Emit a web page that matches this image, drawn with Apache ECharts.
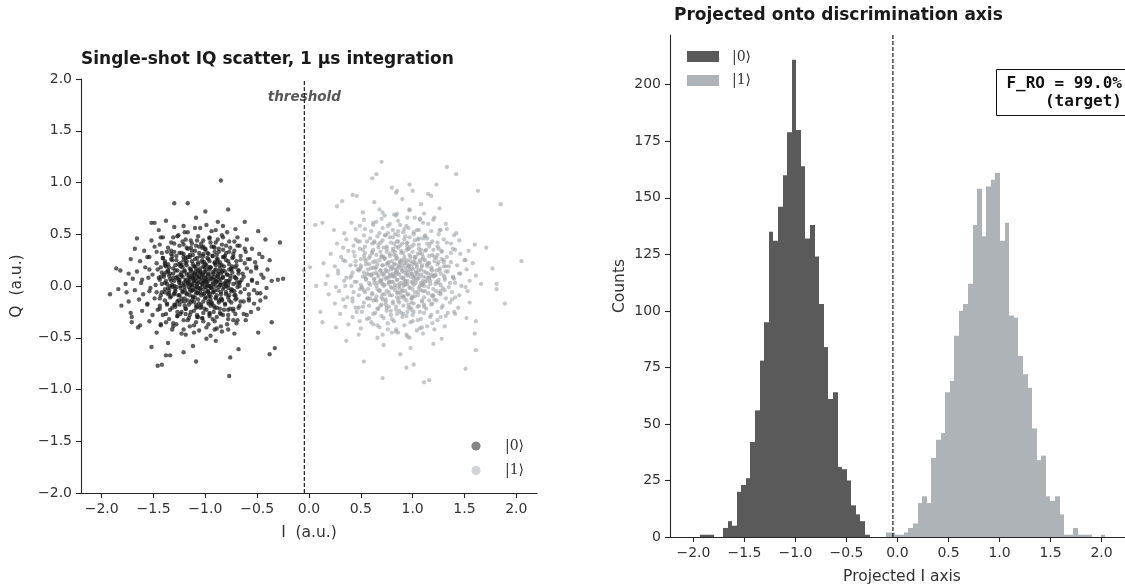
<!DOCTYPE html>
<html>
<head>
<meta charset="utf-8">
<script src="https://cdn.jsdelivr.net/npm/echarts@6/dist/echarts.min.js"></script>
<style>
html, body { margin: 0; padding: 0; background: #fff; }
#chart { width: 1125px; height: 586px; }
</style>
</head>
<body>
<div id="chart"></div>
<script>
// Single-shot readout results (I, Q) for the prepared |0> state
const shots0 = [
  [-1.62,0.03],[-1.55,0.08],[-1.48,0.01],[-1.44,0.06],[-1.40,0.09],[-1.37,0.02],[-1.33,0.05],[-1.30,0.00],[-1.28,0.08],[-1.25,0.04],
  [-1.23,0.10],[-1.21,0.01],[-1.19,0.06],[-1.17,0.03],[-1.15,0.09],[-1.13,0.00],[-1.11,0.05],[-1.10,0.07],[-1.08,0.02],[-1.06,0.09],
  [-1.05,0.04],[-1.03,0.01],[-1.02,0.06],[-1.00,0.08],[-0.99,0.03],[-0.97,0.05],[-0.96,0.00],[-0.94,0.07],[-0.92,0.02],[-0.91,0.09],
  [-0.89,0.04],[-0.87,0.06],[-0.85,0.01],[-0.83,0.08],[-0.81,0.03],[-0.78,0.05],[-0.76,0.10],[-0.73,0.02],[-0.70,0.07],[-0.67,0.04],
  [-0.63,0.09],[-0.59,0.01],[-0.55,0.06],[-0.50,0.03],[-0.44,0.08],[-0.36,0.05],[-1.70,0.07],[-1.77,0.02],[-1.12,0.08],[-0.98,0.01],
  [-1.26,0.06],[-0.88,0.09],[-1.35,0.10],[-0.80,0.00],
  [-1.66,0.14],[-1.58,0.18],[-1.51,0.11],[-1.46,0.16],[-1.42,0.13],[-1.38,0.19],[-1.34,0.12],[-1.31,0.17],[-1.27,0.15],[-1.24,0.11],
  [-1.22,0.18],[-1.20,0.14],[-1.18,0.20],[-1.16,0.12],[-1.14,0.16],[-1.12,0.13],[-1.10,0.19],[-1.08,0.11],[-1.07,0.15],[-1.05,0.17],
  [-1.04,0.12],[-1.02,0.19],[-1.01,0.14],[-0.99,0.16],[-0.97,0.11],[-0.95,0.18],[-0.93,0.13],[-0.91,0.15],[-0.90,0.20],[-0.88,0.12],
  [-0.86,0.17],[-0.84,0.14],[-0.82,0.19],[-0.79,0.11],[-0.77,0.16],[-0.74,0.13],[-0.71,0.18],[-0.68,0.15],[-0.64,0.12],[-0.60,0.17],
  [-0.56,0.14],[-0.51,0.19],[-0.46,0.11],[-0.40,0.16],[-1.29,0.20],[-1.09,0.14],[-0.96,0.18],[-1.36,0.15],[-0.85,0.12],[-1.74,0.12],
  [-1.68,-0.04],[-1.60,-0.08],[-1.53,-0.02],[-1.47,-0.06],[-1.43,-0.09],[-1.39,-0.03],[-1.35,-0.07],[-1.32,-0.01],[-1.29,-0.05],[-1.26,-0.09],
  [-1.24,-0.02],[-1.22,-0.06],[-1.20,-0.04],[-1.18,-0.08],[-1.16,-0.01],[-1.14,-0.05],[-1.12,-0.10],[-1.10,-0.03],[-1.09,-0.07],[-1.07,-0.02],
  [-1.05,-0.06],[-1.04,-0.09],[-1.02,-0.03],[-1.01,-0.07],[-0.99,-0.01],[-0.98,-0.05],[-0.96,-0.08],[-0.94,-0.02],[-0.93,-0.06],[-0.91,-0.04],
  [-0.89,-0.09],[-0.87,-0.01],[-0.85,-0.06],[-0.83,-0.03],[-0.80,-0.08],[-0.78,-0.02],[-0.75,-0.05],[-0.72,-0.09],[-0.69,-0.01],[-0.66,-0.06],
  [-0.62,-0.03],[-0.58,-0.08],[-0.53,-0.04],[-0.47,-0.07],[-0.41,-0.02],[-1.76,-0.06],[-1.84,-0.03],[-1.13,-0.04],[-0.97,-0.10],[-1.30,-0.08],
  [-1.63,0.24],[-1.54,0.28],[-1.47,0.22],[-1.41,0.27],[-1.36,0.21],[-1.32,0.29],[-1.28,0.25],[-1.24,0.22],[-1.21,0.28],[-1.18,0.24],
  [-1.15,0.30],[-1.12,0.21],[-1.10,0.26],[-1.07,0.23],[-1.05,0.29],[-1.03,0.25],[-1.00,0.21],[-0.98,0.27],[-0.96,0.24],[-0.93,0.29],
  [-0.91,0.22],[-0.88,0.26],[-0.86,0.23],[-0.83,0.28],[-0.80,0.25],[-0.77,0.21],[-0.74,0.27],[-0.70,0.24],[-0.66,0.29],[-0.62,0.22],
  [-0.57,0.26],[-0.52,0.23],[-0.45,0.28],[-1.72,0.26],[-1.19,0.27],[-1.01,0.23],[-0.89,0.30],[-1.39,0.24],[-0.38,0.25],
  [-1.64,-0.13],[-1.56,-0.17],[-1.49,-0.12],[-1.44,-0.19],[-1.39,-0.14],[-1.34,-0.11],[-1.30,-0.18],[-1.27,-0.15],[-1.23,-0.12],[-1.20,-0.19],
  [-1.17,-0.14],[-1.14,-0.16],[-1.12,-0.11],[-1.09,-0.18],[-1.07,-0.13],[-1.04,-0.20],[-1.02,-0.15],[-1.00,-0.11],[-0.97,-0.17],[-0.95,-0.13],
  [-0.92,-0.19],[-0.90,-0.12],[-0.87,-0.16],[-0.84,-0.14],[-0.81,-0.18],[-0.78,-0.11],[-0.75,-0.16],[-0.71,-0.13],[-0.67,-0.19],[-0.63,-0.15],
  [-0.58,-0.12],[-0.53,-0.17],[-0.47,-0.14],[-1.74,-0.15],[-1.81,-0.19],[-1.11,-0.15],[-0.94,-0.16],[-1.25,-0.18],[-0.42,-0.11],
  [-1.59,0.34],[-1.49,0.38],[-1.42,0.32],[-1.36,0.37],[-1.30,0.33],[-1.25,0.39],[-1.21,0.31],[-1.17,0.36],[-1.13,0.34],[-1.09,0.39],
  [-1.06,0.32],[-1.03,0.37],[-1.00,0.35],[-0.97,0.31],[-0.94,0.38],[-0.91,0.33],[-0.87,0.36],[-0.84,0.40],[-0.80,0.32],[-0.76,0.37],
  [-0.72,0.34],[-0.67,0.39],[-0.61,0.33],[-0.55,0.36],[-0.48,0.31],[-1.68,0.36],
  [-1.61,-0.24],[-1.51,-0.28],[-1.44,-0.22],[-1.38,-0.27],[-1.32,-0.21],[-1.27,-0.29],[-1.23,-0.25],[-1.19,-0.22],[-1.15,-0.28],[-1.11,-0.24],
  [-1.08,-0.30],[-1.05,-0.21],[-1.02,-0.26],[-0.99,-0.23],[-0.96,-0.29],[-0.92,-0.25],[-0.89,-0.21],[-0.85,-0.27],[-0.82,-0.23],[-0.78,-0.28],
  [-0.73,-0.24],[-0.68,-0.21],[-0.63,-0.27],[-0.56,-0.25],[-0.49,-0.22],[-1.72,-0.26],
  [-1.52,0.44],[-1.41,0.47],[-1.33,0.42],[-1.26,0.49],[-1.19,0.45],[-1.13,0.41],[-1.07,0.48],[-1.02,0.44],[-0.96,0.46],[-0.90,0.42],
  [-0.84,0.49],[-0.77,0.43],[-0.69,0.47],[-0.60,0.45],[-1.66,0.46],
  [-1.54,-0.34],[-1.43,-0.38],[-1.35,-0.32],[-1.28,-0.37],[-1.21,-0.33],[-1.15,-0.39],[-1.09,-0.35],[-1.03,-0.31],[-0.97,-0.37],[-0.91,-0.34],
  [-0.85,-0.39],[-0.78,-0.32],[-0.70,-0.36],[-0.61,-0.33],[-1.63,-0.38],
  [-1.45,0.54],[-1.30,0.57],[-1.17,0.52],[-1.05,0.56],[-0.94,0.53],[-0.83,0.58],[-0.71,0.55],
  [-1.47,-0.45],[-1.32,-0.42],[-1.19,-0.47],[-1.06,-0.43],[-0.95,-0.48],[-0.84,-0.44],[-0.72,-0.46],
  [-1.38,0.63],[-1.09,0.66],[-0.88,0.62],[-1.36,-0.55],[-1.12,-0.58],[-0.90,-0.53],[-1.00,0.72],[-1.21,-0.64],
  [-0.85,1.02],[-1.30,0.80],[-1.17,0.80],[-0.78,0.74],[-1.92,-0.08],[-1.86,0.17],[-1.82,0.15],[-0.28,0.42],[-0.25,0.07],[-0.30,0.06],
  [-1.46,-0.77],[-1.42,-0.76],[-1.09,-0.73],[-0.77,-0.87],[-0.33,-0.60],[-0.38,-0.66],[-1.71,-0.30],[-1.71,-0.35],[-1.65,-0.40],[-1.52,-0.59],
  [-1.52,0.61],[-1.49,0.61],[-1.38,-0.67],[-1.34,-0.67],[-0.76,-0.69],[-0.68,-0.61],[-0.49,-0.45],[-0.36,-0.35],[-0.42,0.45],[-0.49,0.53],
  [-0.62,0.62],
  // dense core of the |0> blob
  [-1.41,-0.28],[-1.37,-0.18],[-1.44,-0.12],[-1.39,-0.06],[-1.36,-0.02],[-1.42,0.02],[-1.38,0.05],[-1.45,0.08],[-1.40,0.11],[-1.36,0.14],
  [-1.43,0.18],[-1.39,0.22],[-1.41,0.27],[-1.37,0.33],[-1.44,0.40],[-1.38,-0.35],
  [-1.31,-0.36],[-1.27,-0.29],[-1.34,-0.23],[-1.29,-0.18],[-1.26,-0.14],[-1.33,-0.10],[-1.30,-0.07],[-1.35,-0.04],[-1.28,-0.01],[-1.32,0.01],
  [-1.25,0.03],[-1.30,0.05],[-1.34,0.07],[-1.27,0.09],[-1.31,0.12],[-1.29,0.15],[-1.35,0.18],[-1.26,0.21],[-1.32,0.25],[-1.28,0.29],
  [-1.33,0.34],[-1.30,0.41],[-1.27,0.48],[-1.34,0.00],
  [-1.21,-0.42],[-1.17,-0.33],[-1.24,-0.27],[-1.19,-0.22],[-1.16,-0.18],[-1.23,-0.15],[-1.20,-0.12],[-1.25,-0.09],[-1.18,-0.07],[-1.22,-0.05],
  [-1.15,-0.03],[-1.20,-0.01],[-1.24,0.00],[-1.17,0.02],[-1.21,0.03],[-1.19,0.05],[-1.25,0.06],[-1.16,0.08],[-1.22,0.09],[-1.18,0.11],
  [-1.23,0.13],[-1.20,0.15],[-1.15,0.17],[-1.24,0.19],[-1.19,0.22],[-1.21,0.25],[-1.17,0.28],[-1.23,0.32],[-1.18,0.37],[-1.22,0.43],
  [-1.20,0.52],[-1.16,0.04],
  [-1.11,-0.38],[-1.07,-0.30],[-1.14,-0.25],[-1.09,-0.21],[-1.06,-0.17],[-1.13,-0.14],[-1.10,-0.11],[-1.15,-0.09],[-1.08,-0.06],[-1.12,-0.04],
  [-1.05,-0.02],[-1.10,0.00],[-1.14,0.01],[-1.07,0.03],[-1.11,0.04],[-1.09,0.05],[-1.15,0.06],[-1.06,0.07],[-1.12,0.08],[-1.08,0.09],
  [-1.13,0.10],[-1.10,0.12],[-1.05,0.13],[-1.14,0.15],[-1.09,0.17],[-1.11,0.19],[-1.07,0.21],[-1.13,0.24],[-1.08,0.27],[-1.12,0.30],
  [-1.10,0.34],[-1.06,0.38],[-1.14,0.44],[-1.08,-0.01],[-1.11,0.11],[-1.13,0.02],[-1.07,-0.07],
  [-0.99,-0.40],[-1.03,-0.31],[-0.96,-0.26],[-1.01,-0.22],[-1.04,-0.18],[-0.97,-0.15],[-1.00,-0.12],[-0.95,-0.10],[-1.02,-0.08],[-0.98,-0.05],
  [-1.05,-0.03],[-1.00,-0.01],[-0.96,0.00],[-1.03,0.02],[-0.99,0.04],[-1.01,0.05],[-0.95,0.07],[-1.04,0.08],[-0.98,0.09],[-1.02,0.10],
  [-0.97,0.12],[-1.00,0.13],[-1.05,0.14],[-0.96,0.16],[-1.01,0.18],[-0.99,0.20],[-1.03,0.23],[-0.97,0.26],[-1.02,0.29],[-0.98,0.32],
  [-1.00,0.36],[-1.04,0.41],[-0.96,0.47],[-1.02,0.03],[-0.99,0.06],[-0.97,-0.06],[-1.03,0.11],
  [-0.89,-0.41],[-0.93,-0.32],[-0.86,-0.26],[-0.91,-0.21],[-0.94,-0.17],[-0.87,-0.14],[-0.90,-0.11],[-0.85,-0.08],[-0.92,-0.06],[-0.88,-0.04],
  [-0.95,-0.02],[-0.90,0.00],[-0.86,0.01],[-0.93,0.03],[-0.89,0.04],[-0.91,0.06],[-0.85,0.07],[-0.94,0.09],[-0.88,0.10],[-0.92,0.12],
  [-0.87,0.14],[-0.90,0.16],[-0.95,0.18],[-0.86,0.20],[-0.91,0.23],[-0.89,0.26],[-0.93,0.29],[-0.87,0.33],[-0.92,0.38],[-0.88,0.45],
  [-0.90,0.05],[-0.94,-0.01],
  [-0.79,-0.37],[-0.83,-0.28],[-0.76,-0.22],[-0.81,-0.17],[-0.84,-0.13],[-0.77,-0.09],[-0.80,-0.06],[-0.75,-0.03],[-0.82,-0.01],[-0.78,0.01],
  [-0.85,0.03],[-0.80,0.05],[-0.76,0.07],[-0.83,0.09],[-0.79,0.11],[-0.81,0.14],[-0.75,0.17],[-0.84,0.20],[-0.78,0.24],[-0.82,0.28],
  [-0.77,0.33],[-0.80,0.39],[-0.83,0.47],[-0.77,0.04],
  [-0.69,-0.33],[-0.73,-0.22],[-0.66,-0.15],[-0.71,-0.09],[-0.74,-0.04],[-0.67,0.00],[-0.70,0.03],[-0.65,0.06],[-0.72,0.09],[-0.68,0.12],
  [-0.75,0.16],[-0.70,0.20],[-0.66,0.25],[-0.73,0.31],[-0.69,0.39],[-0.71,-0.27],
  // body of the |0> blob between core and fringe
  [-0.71,0.08],[-0.68,0.15],[-0.74,0.19],[-0.73,0.28],[-0.81,0.29],[-0.83,0.35],[-0.91,0.37],[-0.95,0.42],[-1.02,0.38],[-1.08,0.44],
  [-1.14,0.37],[-1.21,0.40],[-1.25,0.32],[-1.33,0.31],[-1.33,0.26],[-1.39,0.20],[-1.38,0.13],[-1.43,0.09],[-1.39,0.03],[-1.42,-0.06],
  [-1.36,-0.08],[-1.37,-0.17],[-1.29,-0.20],[-1.27,-0.25],[-1.19,-0.27],[-1.16,-0.31],[-1.08,-0.28],[-1.02,-0.34],[-0.96,-0.27],[-0.89,-0.30],
  [-0.86,-0.22],[-0.78,-0.23],[-0.77,-0.14],[-0.70,-0.12],[-0.72,-0.05],[-0.67,0.03],
  [-0.55,0.05],[-0.51,0.17],[-0.59,0.26],[-0.62,0.36],[-0.72,0.43],[-0.79,0.52],[-0.90,0.54],[-0.99,0.59],[-1.10,0.56],[-1.21,0.58],
  [-1.31,0.47],[-1.43,0.47],[-1.47,0.33],[-1.56,0.28],[-1.54,0.16],[-1.61,0.06],[-1.54,-0.05],[-1.56,-0.18],[-1.46,-0.23],[-1.43,-0.37],
  [-1.31,-0.39],[-1.23,-0.46],[-1.11,-0.45],[-0.99,-0.51],[-0.91,-0.42],[-0.78,-0.42],[-0.73,-0.33],[-0.60,-0.28],[-0.58,-0.14],[-0.50,-0.07],
  [-0.83,0.15],[-0.88,0.23],[-1.02,0.31],[-1.15,0.28],[-1.23,0.20],[-1.31,0.08],[-1.29,-0.03],[-1.20,-0.15],[-1.08,-0.20],[-0.95,-0.19],
  [-0.85,-0.12],[-0.81,0.02]
];

// Single-shot readout results (I, Q) for the prepared |1> state
const shots1 = [
  [0.18,0.10],[0.28,0.15],[0.36,0.08],[0.42,0.13],[0.47,0.16],[0.52,0.09],[0.56,0.12],[0.60,0.17],[0.63,0.07],[0.66,0.11],
  [0.69,0.15],[0.72,0.10],[0.74,0.14],[0.77,0.08],[0.79,0.16],[0.81,0.12],[0.83,0.09],[0.85,0.15],[0.87,0.11],[0.89,0.17],
  [0.91,0.08],[0.93,0.13],[0.95,0.10],[0.97,0.16],[0.99,0.12],[1.01,0.07],[1.03,0.14],[1.05,0.11],[1.08,0.16],[1.10,0.09],
  [1.13,0.13],[1.16,0.08],[1.19,0.15],[1.22,0.11],[1.26,0.17],[1.30,0.10],[1.34,0.14],[1.39,0.08],[1.45,0.12],[1.52,0.16],
  [1.61,0.10],[0.84,0.13],[0.94,0.15],[1.06,0.08],[0.70,0.12],
  [0.14,0.22],[0.25,0.19],[0.33,0.25],[0.40,0.20],[0.45,0.24],[0.50,0.18],[0.54,0.26],[0.58,0.21],[0.62,0.23],[0.65,0.18],
  [0.68,0.25],[0.71,0.20],[0.73,0.27],[0.76,0.22],[0.78,0.19],[0.80,0.24],[0.82,0.21],[0.84,0.26],[0.86,0.18],[0.88,0.23],
  [0.90,0.20],[0.92,0.25],[0.94,0.22],[0.96,0.19],[0.98,0.24],[1.00,0.21],[1.02,0.26],[1.04,0.18],[1.07,0.23],[1.09,0.20],
  [1.12,0.25],[1.15,0.22],[1.18,0.18],[1.21,0.24],[1.24,0.21],[1.28,0.26],[1.32,0.19],[1.37,0.23],[1.43,0.20],[1.50,0.25],
  [1.58,0.22],[0.87,0.21],[1.01,0.23],
  [0.16,0.02],[0.26,-0.01],[0.34,0.05],[0.41,0.00],[0.46,0.04],[0.51,-0.02],[0.55,0.06],[0.59,0.01],[0.63,0.03],[0.66,-0.03],
  [0.69,0.05],[0.72,0.00],[0.74,0.07],[0.77,0.02],[0.79,-0.01],[0.81,0.04],[0.83,0.01],[0.85,0.06],[0.87,-0.02],[0.89,0.03],
  [0.91,0.00],[0.93,0.05],[0.95,0.02],[0.97,-0.01],[0.99,0.04],[1.01,0.01],[1.03,0.06],[1.06,-0.02],[1.08,0.03],[1.11,0.00],
  [1.14,0.05],[1.17,0.02],[1.20,-0.03],[1.23,0.04],[1.27,0.01],[1.31,0.06],[1.35,-0.01],[1.41,0.03],[1.47,0.00],[1.55,0.05],
  [1.66,0.02],[0.92,0.02],[0.78,0.04],
  [0.21,0.31],[0.31,0.28],[0.38,0.34],[0.44,0.29],[0.49,0.36],[0.54,0.32],[0.58,0.27],[0.62,0.35],[0.65,0.30],[0.69,0.33],
  [0.72,0.28],[0.75,0.36],[0.78,0.31],[0.81,0.34],[0.84,0.29],[0.86,0.37],[0.89,0.32],[0.92,0.28],[0.94,0.35],[0.97,0.30],
  [1.00,0.33],[1.03,0.28],[1.06,0.36],[1.09,0.31],[1.12,0.34],[1.16,0.29],[1.20,0.35],[1.24,0.30],[1.28,0.33],[1.33,0.28],
  [1.39,0.36],[1.46,0.31],[1.54,0.34],[0.83,0.33],[0.96,0.36],[1.10,0.28],
  [0.19,-0.08],[0.29,-0.05],[0.37,-0.11],[0.43,-0.06],[0.48,-0.09],[0.53,-0.04],[0.57,-0.12],[0.61,-0.07],[0.65,-0.10],[0.68,-0.05],
  [0.71,-0.08],[0.74,-0.13],[0.77,-0.06],[0.80,-0.09],[0.83,-0.04],[0.85,-0.11],[0.88,-0.07],[0.91,-0.10],[0.93,-0.05],[0.96,-0.08],
  [0.99,-0.12],[1.02,-0.06],[1.05,-0.09],[1.08,-0.04],[1.11,-0.11],[1.15,-0.07],[1.19,-0.10],[1.23,-0.05],[1.27,-0.08],[1.32,-0.12],
  [1.38,-0.06],[1.45,-0.09],[1.53,-0.05],[0.86,-0.06],[1.00,-0.10],[0.70,-0.11],
  [0.27,0.41],[0.36,0.45],[0.43,0.39],[0.49,0.43],[0.54,0.38],[0.59,0.46],[0.63,0.42],[0.67,0.40],[0.71,0.44],[0.75,0.38],
  [0.78,0.47],[0.82,0.41],[0.85,0.43],[0.88,0.39],[0.92,0.45],[0.95,0.42],[0.99,0.38],[1.02,0.44],[1.06,0.40],[1.10,0.46],
  [1.14,0.41],[1.19,0.43],[1.24,0.38],[1.30,0.45],[1.37,0.41],[1.45,0.44],[0.90,0.41],[1.60,0.40],
  [0.25,-0.17],[0.35,-0.20],[0.42,-0.15],[0.48,-0.21],[0.53,-0.16],[0.58,-0.19],[0.62,-0.14],[0.66,-0.22],[0.70,-0.18],[0.74,-0.15],
  [0.77,-0.20],[0.81,-0.17],[0.84,-0.23],[0.87,-0.16],[0.91,-0.19],[0.94,-0.14],[0.98,-0.21],[1.01,-0.17],[1.05,-0.20],[1.09,-0.15],
  [1.13,-0.22],[1.18,-0.18],[1.23,-0.14],[1.29,-0.19],[1.36,-0.16],[1.44,-0.21],[0.96,-0.18],[1.55,-0.16],
  [0.34,0.51],[0.45,0.55],[0.53,0.49],[0.60,0.53],[0.66,0.48],[0.71,0.56],[0.76,0.51],[0.81,0.54],[0.86,0.49],[0.91,0.52],
  [0.96,0.56],[1.01,0.50],[1.06,0.54],[1.12,0.48],[1.18,0.53],[1.25,0.50],[1.33,0.55],[1.42,0.51],[0.24,0.54],
  [0.30,-0.27],[0.42,-0.30],[0.51,-0.25],[0.58,-0.31],[0.64,-0.26],[0.70,-0.29],[0.75,-0.24],[0.80,-0.32],[0.85,-0.27],[0.90,-0.30],
  [0.95,-0.25],[1.00,-0.28],[1.05,-0.33],[1.11,-0.26],[1.17,-0.30],[1.24,-0.25],[1.32,-0.29],[1.41,-0.27],[1.52,-0.31],
  [0.41,0.61],[0.53,0.64],[0.62,0.59],[0.70,0.65],[0.78,0.60],[0.86,0.63],[0.94,0.58],[1.02,0.66],[1.10,0.61],[1.20,0.64],[1.32,0.60],
  [0.38,-0.37],[0.50,-0.41],[0.60,-0.35],[0.68,-0.40],[0.76,-0.36],[0.84,-0.42],[0.92,-0.38],[1.00,-0.34],[1.09,-0.40],[1.19,-0.36],[1.31,-0.39],
  [0.52,0.71],[0.68,0.74],[0.82,0.69],[0.97,0.73],[1.11,0.70],[1.26,0.75],
  [0.48,-0.47],[0.66,-0.50],[0.80,-0.45],[0.95,-0.49],[1.10,-0.46],[1.28,-0.51],
  [0.63,0.81],[0.90,0.84],[1.08,0.79],[0.72,-0.57],[0.98,-0.60],[1.20,-0.56],[0.85,0.92],[0.88,-0.66],
  [0.70,1.20],[1.33,1.15],[1.42,1.08],[1.63,0.92],[1.85,0.79],[2.05,0.24],[1.89,-0.17],[1.61,-0.62],[1.51,-0.80],[1.11,-0.93],
  [1.16,-0.91],[0.71,-0.89],[0.53,-0.73],[0.94,-0.79],[1.01,-0.76],[-0.05,0.15],[0.01,0.18],[0.06,0.59],[0.13,0.61],[0.07,0.00],
  [0.11,-0.25],[0.13,-0.35],[0.26,-0.40],[0.36,-0.53],[0.61,1.04],[0.65,1.08],[0.42,0.88],[0.46,0.87],[0.27,0.77],[0.32,0.82],
  [0.80,0.95],[0.84,0.90],[0.97,0.98],[1.00,0.92],[1.15,0.89],[1.18,0.87],[1.23,0.98],[1.71,0.37],[1.77,0.17],[1.81,0.02],
  [1.81,-0.03],[1.61,-0.34],[1.60,-0.46],
  // dense core of the |1> blob
  [0.46,-0.25],[0.42,-0.12],[0.49,-0.03],[0.44,0.04],[0.41,0.10],[0.48,0.15],[0.45,0.20],[0.50,0.26],[0.43,0.33],[0.47,0.43],[0.40,0.08],
  [0.56,-0.32],[0.52,-0.20],[0.59,-0.12],[0.54,-0.06],[0.51,-0.01],[0.58,0.03],[0.55,0.07],[0.60,0.10],[0.53,0.13],[0.57,0.16],
  [0.50,0.20],[0.55,0.24],[0.59,0.29],[0.52,0.35],[0.56,0.43],[0.54,0.55],[0.58,0.11],
  [0.66,-0.38],[0.62,-0.27],[0.69,-0.19],[0.64,-0.13],[0.61,-0.08],[0.68,-0.04],[0.65,0.00],[0.70,0.03],[0.63,0.06],[0.67,0.09],
  [0.60,0.11],[0.65,0.13],[0.69,0.15],[0.62,0.18],[0.66,0.21],[0.64,0.24],[0.70,0.28],[0.61,0.32],[0.67,0.37],[0.63,0.43],
  [0.68,0.51],[0.65,0.62],[0.62,0.12],[0.69,0.05],
  [0.76,-0.42],[0.72,-0.31],[0.79,-0.24],[0.74,-0.18],[0.71,-0.13],[0.78,-0.09],[0.75,-0.05],[0.80,-0.02],[0.73,0.01],[0.77,0.04],
  [0.70,0.06],[0.75,0.08],[0.79,0.10],[0.72,0.12],[0.76,0.14],[0.74,0.16],[0.80,0.18],[0.71,0.20],[0.77,0.23],[0.73,0.26],
  [0.78,0.29],[0.75,0.33],[0.72,0.37],[0.79,0.42],[0.74,0.49],[0.76,0.58],[0.73,0.68],[0.78,0.11],[0.71,0.02],[0.75,0.21],
  [0.86,-0.45],[0.82,-0.34],[0.89,-0.26],[0.84,-0.20],[0.81,-0.15],[0.88,-0.11],[0.85,-0.07],[0.90,-0.04],[0.83,-0.01],[0.87,0.02],
  [0.80,0.04],[0.85,0.06],[0.89,0.08],[0.82,0.10],[0.86,0.12],[0.84,0.13],[0.90,0.15],[0.81,0.17],[0.87,0.19],[0.83,0.21],
  [0.88,0.24],[0.85,0.27],[0.82,0.30],[0.89,0.34],[0.84,0.38],[0.86,0.43],[0.83,0.50],[0.88,0.59],[0.85,0.70],[0.81,0.09],
  [0.87,0.00],[0.84,0.16],[0.89,0.25],
  [0.94,-0.47],[0.98,-0.35],[0.91,-0.27],[0.96,-0.21],[0.99,-0.16],[0.92,-0.12],[0.95,-0.08],[0.90,-0.05],[0.97,-0.02],[0.93,0.01],
  [1.00,0.03],[0.95,0.05],[0.91,0.07],[0.98,0.09],[0.94,0.11],[0.96,0.13],[0.90,0.14],[0.99,0.16],[0.93,0.18],[0.97,0.20],
  [0.92,0.22],[0.95,0.25],[0.98,0.28],[0.91,0.32],[0.96,0.36],[0.94,0.41],[0.97,0.47],[0.92,0.55],[0.95,0.66],[0.99,0.12],
  [0.93,0.04],[0.96,0.19],[0.91,-0.10],
  [1.04,-0.43],[1.08,-0.32],[1.01,-0.25],[1.06,-0.19],[1.09,-0.14],[1.02,-0.10],[1.05,-0.06],[1.00,-0.03],[1.07,0.00],[1.03,0.03],
  [1.10,0.05],[1.05,0.07],[1.01,0.09],[1.08,0.11],[1.04,0.13],[1.06,0.15],[1.00,0.17],[1.09,0.19],[1.03,0.22],[1.07,0.25],
  [1.02,0.28],[1.05,0.31],[1.08,0.35],[1.01,0.40],[1.06,0.46],[1.04,0.54],[1.07,0.64],[1.02,0.10],[1.09,0.01],[1.04,0.20],
  [1.14,-0.39],[1.18,-0.28],[1.11,-0.20],[1.16,-0.14],[1.19,-0.09],[1.12,-0.05],[1.15,-0.01],[1.10,0.02],[1.17,0.05],[1.13,0.08],
  [1.20,0.10],[1.15,0.12],[1.11,0.14],[1.18,0.16],[1.14,0.19],[1.16,0.22],[1.10,0.26],[1.19,0.30],[1.13,0.35],[1.17,0.41],
  [1.12,0.49],[1.15,0.60],[1.18,0.11],[1.12,0.04],
  [1.24,-0.33],[1.28,-0.21],[1.21,-0.13],[1.26,-0.07],[1.29,-0.02],[1.22,0.02],[1.25,0.06],[1.20,0.09],[1.27,0.12],[1.23,0.15],
  [1.30,0.19],[1.25,0.23],[1.21,0.28],[1.28,0.34],[1.24,0.42],[1.26,0.54],[1.22,0.10],
  [1.34,-0.26],[1.38,-0.13],[1.31,-0.04],[1.36,0.03],[1.39,0.09],[1.32,0.14],[1.35,0.19],[1.30,0.25],[1.37,0.32],[1.33,0.42],[1.40,0.07],
  // body of the |1> blob between core and fringe
  [1.26,0.15],[1.30,0.23],[1.23,0.27],[1.25,0.36],[1.16,0.38],[1.14,0.46],[1.05,0.45],[1.01,0.52],[0.93,0.48],[0.86,0.53],
  [0.81,0.47],[0.73,0.49],[0.69,0.42],[0.61,0.41],[0.61,0.33],[0.53,0.29],[0.55,0.21],[0.49,0.16],[0.54,0.09],[0.50,0.01],
  [0.57,-0.03],[0.56,-0.12],[0.65,-0.14],[0.67,-0.22],[0.75,-0.21],[0.79,-0.28],[0.87,-0.24],[0.94,-0.29],[0.99,-0.23],[1.07,-0.25],
  [1.11,-0.18],[1.19,-0.17],[1.20,-0.09],[1.27,-0.05],[1.25,0.03],[1.31,0.08],
  [1.46,0.12],[1.51,0.25],[1.41,0.35],[1.40,0.49],[1.27,0.54],[1.21,0.66],[1.07,0.65],[0.97,0.74],[0.84,0.68],[0.71,0.71],
  [0.62,0.61],[0.49,0.58],[0.45,0.45],[0.33,0.37],[0.35,0.24],[0.28,0.12],[0.35,0.00],[0.33,-0.13],[0.45,-0.21],[0.49,-0.34],
  [0.62,-0.37],[0.71,-0.47],[0.84,-0.44],[0.97,-0.50],[1.07,-0.41],[1.21,-0.42],[1.27,-0.30],[1.40,-0.25],[1.41,-0.11],[1.51,-0.01],
  [1.14,0.21],[1.07,0.32],[0.95,0.38],[0.81,0.36],[0.70,0.29],[0.64,0.17],[0.66,0.03],[0.73,-0.08],[0.86,-0.14],[0.99,-0.12],
  [1.10,-0.05],[1.16,0.08]
];

// Histogram of the projected I value: first bin edge, common bin width, counts per bin
const hist0Start = -1.935;
const hist1Start = -0.117;
const binWidth = 0.0449;
const hist0Counts = [1,1,1,0,0,4,7,5,20,23,26,42,56,78,95,135,131,146,160,179,211,180,164,132,138,124,103,84,61,64,31,30,25,14,10,7,1];
const hist1Counts = [2,2,1,1,2,4,6,15,18,15,35,43,46,64,69,89,100,103,112,138,154,133,155,158,161,131,139,98,97,80,72,66,48,34,36,18,16,18,10,1,1,4,1,1,1,0,0,1];

// Discrimination threshold on the I axis
const threshold = -0.045;

// Axis ticks
const iTicks = [-2, -1.5, -1, -0.5, 0, 0.5, 1, 1.5, 2];
const qTicks = [-2, -1.5, -1, -0.5, 0, 0.5, 1, 1.5, 2];
const countTicks = [0, 25, 50, 75, 100, 125, 150, 175, 200];

const stateLabels = ['|0\u27E9', '|1\u27E9'];
const fidelityLines = ['F_RO = 99.0%', '(target)'];

const FONT = "'DejaVu Sans', sans-serif";
const KET_FONT = "'DejaVu Serif', serif";
const INK = '#262626';
const TEXT = '#333333';
const DARK_HIST = '#5a5a5a';
const LIGHT_HIST = '#aeb3b8';

const fmt1 = v => (v < 0 ? '\u2212' : '') + Math.abs(v).toFixed(1);

function valueAxis(extra) {
  return Object.assign({
    type: 'value',
    splitLine: { show: false },
    axisLine: { show: true, onZero: false, lineStyle: { color: INK, width: 1.1 } },
    axisTick: { show: true, inside: false, length: 5, lineStyle: { color: INK, width: 1.1 } },
    axisLabel: { color: TEXT, fontFamily: FONT, fontSize: 14 }
  }, extra);
}

// one rectangle per bin, edges snapped to whole pixels so neighbouring bars meet cleanly
function histSeries(name, start, counts, color) {
  return {
    type: 'custom',
    name: name,
    xAxisIndex: 1,
    yAxisIndex: 1,
    data: counts.map((c, k) => [start + k * binWidth, start + (k + 1) * binWidth, c]),
    encode: { x: [0, 1], y: 2 },
    renderItem: function (params, api) {
      const top = api.coord([api.value(0), api.value(2)]);
      const base = api.coord([api.value(1), 0]);
      const x0 = Math.round(top[0]);
      const x1 = Math.round(base[0]);
      return {
        type: 'rect',
        shape: { x: x0, y: top[1], width: x1 - x0, height: base[1] - top[1] },
        style: { fill: color }
      };
    }
  };
}

const chart = echarts.init(document.getElementById('chart'), null, { renderer: 'canvas' });

chart.setOption({
  animation: false,
  backgroundColor: '#ffffff',
  textStyle: { fontFamily: FONT },
  grid: [
    { left: 81, top: 79, width: 456, height: 414 },
    { left: 670, top: 35, width: 464, height: 502 }
  ],
  xAxis: [
    valueAxis({
      gridIndex: 0, min: -2.2, max: 2.2,
      axisTick: { show: true, length: 5, customValues: iTicks, lineStyle: { color: INK, width: 1.1 } },
      axisLabel: { color: TEXT, fontFamily: FONT, fontSize: 14, margin: 9, customValues: iTicks, formatter: fmt1 }
    }),
    valueAxis({
      gridIndex: 1, min: -2.23, max: 2.23,
      axisTick: { show: true, length: 5, customValues: iTicks, lineStyle: { color: INK, width: 1.1 } },
      axisLabel: { color: TEXT, fontFamily: FONT, fontSize: 14, margin: 9, customValues: iTicks, formatter: fmt1 }
    })
  ],
  yAxis: [
    valueAxis({
      gridIndex: 0, min: -2, max: 2,
      axisTick: { show: true, length: 5, customValues: qTicks, lineStyle: { color: INK, width: 1.1 } },
      axisLabel: { color: TEXT, fontFamily: FONT, fontSize: 14, margin: 9, customValues: qTicks, formatter: fmt1 }
    }),
    valueAxis({
      gridIndex: 1, min: 0, max: 222,
      axisTick: { show: true, length: 5, customValues: countTicks, lineStyle: { color: INK, width: 1.1 } },
      axisLabel: { color: TEXT, fontFamily: FONT, fontSize: 14, margin: 9, customValues: countTicks, formatter: v => String(v) }
    })
  ],
  series: [
    {
      type: 'scatter', name: stateLabels[0], xAxisIndex: 0, yAxisIndex: 0,
      data: shots0, symbol: 'circle', symbolSize: 4.4,
      itemStyle: { color: '#1a1a1a', opacity: 0.7 }
    },
    {
      type: 'scatter', name: stateLabels[1], xAxisIndex: 0, yAxisIndex: 0,
      data: shots1, symbol: 'circle', symbolSize: 4.3,
      itemStyle: { color: '#9ea3a8', opacity: 0.6 }
    },
    {
      type: 'line', xAxisIndex: 0, yAxisIndex: 0,
      data: [[threshold, -2], [threshold, 2]], showSymbol: false, silent: true,
      lineStyle: { color: '#1a1a1a', width: 1.2, type: [4, 2] }
    },
    {
      type: 'scatter', xAxisIndex: 0, yAxisIndex: 0, silent: true,
      data: [[threshold, 1.82]], symbolSize: 0,
      label: {
        show: true, position: 'inside', formatter: 'threshold',
        fontFamily: FONT, fontStyle: 'italic', fontWeight: 'bold', fontSize: 13.5, color: '#2e2e2e'
      }
    },
    histSeries(stateLabels[0], hist0Start, hist0Counts, DARK_HIST),
    histSeries(stateLabels[1], hist1Start, hist1Counts, LIGHT_HIST),
    {
      type: 'line', xAxisIndex: 1, yAxisIndex: 1,
      data: [[threshold, 0], [threshold, 222]], showSymbol: false, silent: true,
      lineStyle: { color: '#1a1a1a', width: 1.2, type: [4, 2] }
    }
  ],
  graphic: [
    // titles
    { type: 'text', x: 81, y: 60, style: { text: 'Single-shot IQ scatter, 1 \u03BCs integration', fill: '#1a1a1a', font: "bold 17px 'DejaVu Sans'", verticalAlign: 'middle' } },
    { type: 'text', x: 674, y: 16, style: { text: 'Projected onto discrimination axis', fill: '#1a1a1a', font: "bold 17px 'DejaVu Sans'", verticalAlign: 'middle' } },
    // axis names
    { type: 'text', x: 17, y: 286, rotation: Math.PI / 2, style: { text: 'Q  (a.u.)', fill: TEXT, font: "15.5px 'DejaVu Sans'", align: 'center', verticalAlign: 'middle' } },
    { type: 'text', x: 309, y: 533, style: { text: 'I  (a.u.)', fill: TEXT, font: "15.5px 'DejaVu Sans'", align: 'center', verticalAlign: 'middle' } },
    { type: 'text', x: 620, y: 286, rotation: Math.PI / 2, style: { text: 'Counts', fill: TEXT, font: "15.5px 'DejaVu Sans'", align: 'center', verticalAlign: 'middle' } },
    { type: 'text', x: 902, y: 577, style: { text: 'Projected I axis', fill: TEXT, font: "15.5px 'DejaVu Sans'", align: 'center', verticalAlign: 'middle' } },
    // scatter legend
    { type: 'circle', shape: { cx: 476, cy: 446, r: 4.6 }, style: { fill: '#858585' } },
    { type: 'text', x: 505, y: 446, style: { text: stateLabels[0], fill: TEXT, font: "14px " + KET_FONT, verticalAlign: 'middle' } },
    { type: 'circle', shape: { cx: 476, cy: 470.5, r: 4.6 }, style: { fill: '#d0d3d5' } },
    { type: 'text', x: 505, y: 470.5, style: { text: stateLabels[1], fill: TEXT, font: "14px " + KET_FONT, verticalAlign: 'middle' } },
    // histogram legend
    { type: 'rect', shape: { x: 687, y: 51, width: 32, height: 11 }, style: { fill: DARK_HIST } },
    { type: 'text', x: 732, y: 57, style: { text: stateLabels[0], fill: TEXT, font: "14px " + KET_FONT, verticalAlign: 'middle' } },
    { type: 'rect', shape: { x: 687, y: 75, width: 32, height: 11 }, style: { fill: LIGHT_HIST } },
    { type: 'text', x: 732, y: 80, style: { text: stateLabels[1], fill: TEXT, font: "14px " + KET_FONT, verticalAlign: 'middle' } },
    // readout fidelity box
    { type: 'rect', shape: { x: 996.5, y: 69.5, width: 150, height: 46 }, style: { fill: '#ffffff', stroke: '#111111', lineWidth: 1 } },
    { type: 'text', x: 1122, y: 93, style: { text: fidelityLines.join('\n'), fill: '#111111', font: "bold 16px 'DejaVu Sans Mono'", align: 'right', verticalAlign: 'middle', lineHeight: 18 } }
  ]
});
</script>
</body>
</html>
